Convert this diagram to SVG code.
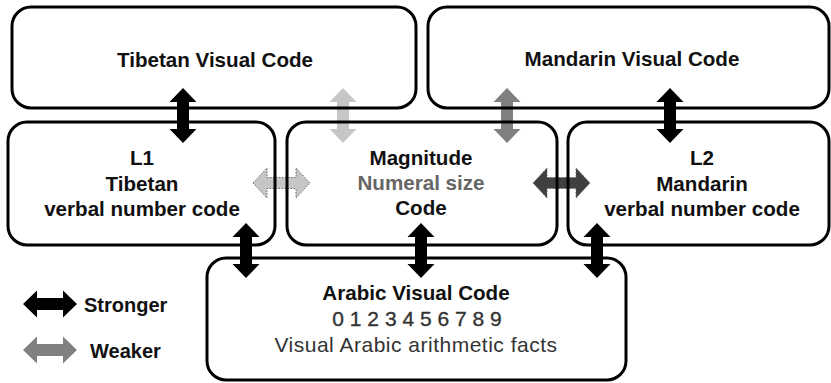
<svg xmlns="http://www.w3.org/2000/svg" xmlns:xlink="http://www.w3.org/1999/xlink" width="831" height="383" viewBox="0 0 831 383">
  <style>
    .box { fill: none; stroke: #000; stroke-width: 3; }
    .t { font-family: "Liberation Sans", Arial, sans-serif; font-size: 20.6px; font-weight: bold; fill: #111; text-anchor: middle; }
    .gray { fill: #666; }
    .reg { font-weight: normal; fill: #333; }
    .dig { font-weight: normal; fill: #333; font-size: 21px; stroke: #333; stroke-width: 0.35px; }
    .lg { font-family: "Liberation Sans", Arial, sans-serif; font-size: 20px; font-weight: bold; fill: #111; }
    .black { fill: #000; }
    .light { fill: #c6c6c6; }
    .mid { fill: #808080; }
    .dark { fill: #404040; }
    .dotted { stroke: #666; stroke-width: 1; stroke-dasharray: 1.5 1.5; }
  </style>
  <defs>
    <path id="varrow" d="M0,-27.5 L13.5,-13.5 L6,-13.5 L6,13.5 L13.5,13.5 L0,27.5 L-13.5,13.5 L-6,13.5 L-6,-13.5 L-13.5,-13.5 Z"/>
    <path id="harrow" d="M-28.5,0 L-14.5,-15 L-14.5,-5.5 L14.5,-5.5 L14.5,-15 L28.5,0 L14.5,15 L14.5,5.5 L-14.5,5.5 L-14.5,15 Z"/>
    <path id="legarrow" d="M-27,0 L-13,-13.5 L-13,-6 L13,-6 L13,-13.5 L27,0 L13,13.5 L13,6 L-13,6 L-13,13.5 Z"/>
  </defs>
  <rect x="0" y="0" width="831" height="383" fill="#fff"/>

  <g id="connectors">
    <use xlink:href="#varrow" href="#varrow" class="black" transform="translate(183,115.5)"/>
    <use xlink:href="#varrow" href="#varrow" class="light" transform="translate(343,115.5)"/>
    <use xlink:href="#varrow" href="#varrow" class="mid" transform="translate(507,115.5)"/>
    <use xlink:href="#varrow" href="#varrow" class="black" transform="translate(670,115.5)"/>
    <use xlink:href="#varrow" href="#varrow" class="black" transform="translate(246,250.5)"/>
    <use xlink:href="#varrow" href="#varrow" class="black" transform="translate(421,250.5)"/>
    <use xlink:href="#varrow" href="#varrow" class="black" transform="translate(597,250.5)"/>
    <use xlink:href="#harrow" href="#harrow" class="light dotted" transform="translate(281.5,183)"/>
    <use xlink:href="#harrow" href="#harrow" class="dark dotted" transform="translate(561.5,183)"/>
  </g>

  <g id="tibetan-visual">
    <rect class="box" x="12" y="7" width="404" height="101" rx="19"/>
    <text class="t" x="215" y="67">Tibetan Visual Code</text>
  </g>
  <g id="mandarin-visual">
    <rect class="box" x="428" y="7" width="401" height="101" rx="19"/>
    <text class="t" x="632" y="66">Mandarin Visual Code</text>
  </g>
  <g id="l1">
    <rect class="box" x="8" y="122" width="267" height="123" rx="19"/>
    <text class="t" x="142" y="165">L1</text>
    <text class="t" x="142" y="191">Tibetan</text>
    <text class="t" x="142" y="216">verbal number code</text>
  </g>
  <g id="magnitude">
    <rect class="box" x="287" y="122" width="270" height="123" rx="19"/>
    <text class="t" x="421" y="165">Magnitude</text>
    <text class="t gray" x="421" y="190">Numeral size</text>
    <text class="t" x="421" y="215">Code</text>
  </g>
  <g id="l2">
    <rect class="box" x="568" y="122" width="261" height="123" rx="19"/>
    <text class="t" x="702" y="165">L2</text>
    <text class="t" x="702" y="191">Mandarin</text>
    <text class="t" x="702" y="216">verbal number code</text>
  </g>
  <g id="arabic-visual">
    <rect class="box" x="207" y="258" width="419" height="122" rx="19"/>
    <text class="t" x="416" y="300">Arabic Visual Code</text>
    <text class="t dig" x="417" y="326">0 1 2 3 4 5 6 7 8 9</text>
    <text class="t reg" x="416" y="352" style="font-size:21px;letter-spacing:0.5px">Visual Arabic arithmetic facts</text>
  </g>

  <g id="legend">
    <use xlink:href="#legarrow" href="#legarrow" class="black" transform="translate(50,304)"/>
    <text class="lg" x="84" y="312">Stronger</text>
    <use xlink:href="#legarrow" href="#legarrow" class="mid" transform="translate(50,350)"/>
    <text class="lg" x="90" y="358">Weaker</text>
  </g>
</svg>
